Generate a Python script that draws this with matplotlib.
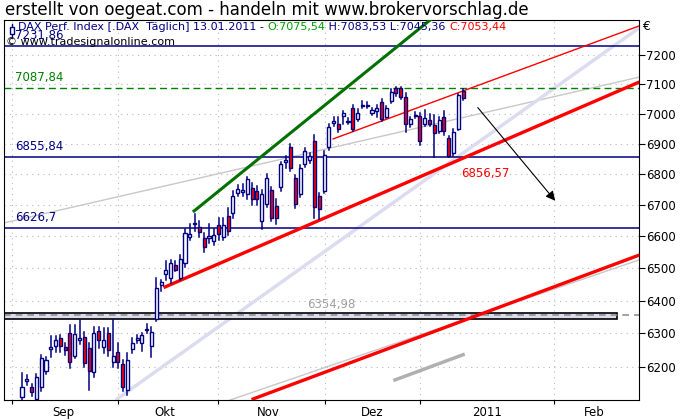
import matplotlib
matplotlib.use("Agg")
import matplotlib.pyplot as plt
from matplotlib.patches import Rectangle
from matplotlib.lines import Line2D
from matplotlib.ticker import FixedLocator, NullLocator
import matplotlib.transforms as mtrans

opens = [6110,6159,6140,6105,6140,6187,6254,6262,6286,6259,
         6302,6232,6281,6290,6256,6184,6308,6259,6302,6214,
         6244,6208,6131,6253,6281,6271,6309,6262,6345,6448,
         6481,6470,6510,6470,6515,6598,6638,6631,6595,6596,
         6586,6637,6598,6665,6675,6738,6741,6735,6754,6745,
         6650,6703,6748,6697,6758,6840,6890,6787,6735,6833,
         6846,6910,6729,6745,6890,6970,6966,6994,6972,7018,
         6984,7026,7026,7001,7008,7039,6990,7042,7087,7087,
         7056,6966,6991,6994,6966,6980,6963,6943,6990,6919,
         6870,6950,7075.54]
highs = [6182,6176,6150,6178,6235,6230,6293,6292,6295,6270,
         6326,6326,6340,6305,6270,6320,6320,6315,6315,6341,
         6270,6220,6240,6285,6295,6300,6330,6320,6470,6462,
         6522,6525,6522,6540,6622,6638,6670,6648,6610,6640,
         6625,6660,6660,6690,6745,6765,6768,6790,6770,6760,
         6750,6800,6758,6720,6840,6860,6900,6798,6830,6885,
         6870,6930,6740,6875,6965,6990,6990,7010,6985,7030,
         7015,7042,7040,7020,7030,7050,7025,7085,7090,7092,
         7070,6990,7005,7003,7012,7000,6995,6990,7010,6925,
         6950,7065,7083.53]
lows = [6095,6146,6115,6095,6128,6178,6229,6245,6245,6235,
        6195,6225,6268,6200,6131,6170,6255,6240,6232,6200,
        6195,6128,6118,6240,6270,6248,6300,6228,6338,6430,
        6465,6455,6490,6465,6505,6588,6618,6598,6550,6580,
        6572,6590,6590,6605,6660,6728,6730,6720,6700,6700,
        6622,6695,6650,6640,6745,6820,6810,6690,6725,6825,
        6835,6660,6655,6738,6880,6960,6940,6965,6965,6942,
        6975,7020,7018,6995,6990,6975,6985,7035,7060,7050,
        6940,6955,6985,6895,6960,6958,6857,6935,6930,6856.57,
        6858,6945,7045.36]
closes = [6140,6163,6125,6170,6226,6220,6258,6280,6262,6250,
          6214,6299,6285,6211,6187,6302,6280,6280,6250,6232,
          6214,6140,6220,6271,6285,6296,6313,6305,6439,6457,
          6495,6517,6495,6529,6610,6607,6642,6613,6568,6600,
          6604,6607,6637,6616,6729,6751,6750,6784,6719,6719,
          6735,6787,6659,6659,6833,6845,6820,6703,6820,6877,
          6860,6693,6687,6864,6956,6977,6950,7001,6976,6950,
          7004,7030,7030,7014,7021,6981,7018,7073,7070,7056,
          6966,6984,6997,6910,6987,6966,6936,6980,6943,6860,
          6940,7062,7053.44]

h_levels = [7231.86, 6855.84, 6626.7]
h_labels = ["7231,86", "6855,84", "6626,7"]
green_level = 7087.84
box_level = 6354.98
box_range = (6343, 6363)

green_line = ([35.89, 85.12], [6681, 7322])
red_thin = ([64.89, 128.7], [6916, 7301])
red_thick = ([29.84, 128.7], [6442, 7107])
red_bottom = ([48.2, 128.7], [6105, 6541])
lavender = ([19.82, 128.7], [6105, 7294])
grey_upper = ([-3.76, 128.7], [6643, 7124])
grey_lower = ([43.4, 128.7], [6102, 6526])
grey_ma = ([77.8, 92.0], [6161, 6236])
arrow = ([94.7, 111.6], [7028, 6707])

month_ticks = [-2.09, 20.03, 40.89, 63.22, 83.04, 111.0]
month_label_pos = [8.55, 29.84, 51.33, 73.02, 97.02, 119.34]
month_labels = ["Sep", "Okt", "Nov", "Dez", "2011", "Feb"]
yticks = [6200, 6300, 6400, 6500, 6600, 6700, 6800, 6900, 7000, 7100, 7200]

navy = "#000080"
fig = plt.figure(figsize=(6.8, 4.2), dpi=100)
ax = fig.add_axes([4/680, 1-400/420, 635/680, 380/420])
ax.set_yscale("log")
ax.set_xlim(-3.76, 128.7)
ax.set_ylim(6102, 7322)

for y in yticks:
    ax.axhline(y, color="#b8b8b8", lw=0.8, ls=(0, (1, 4)), zorder=0)
for x in month_ticks:
    ax.axvline(x, color="#b8b8b8", lw=0.8, ls=(0, (1, 4)), zorder=0)

ax.plot(*grey_upper, color="#c8c8c8", lw=1, zorder=1)
ax.plot(*grey_lower, color="#c8c8c8", lw=1, zorder=1)
ax.plot(*grey_ma, color="#b0b0b0", lw=2.5, zorder=1)
ax.plot(*lavender, color="#dcdcf0", lw=2.5, zorder=1)

ax.add_patch(Rectangle((-3.76, box_range[0]), 124.1+3.76, box_range[1]-box_range[0],
                       facecolor="#dcdcf0", edgecolor="black", lw=1.2, zorder=2))
ax.plot([-3.76, 128.7], [box_level, box_level], color="#909090", lw=1.2, ls=(0, (4, 3)), zorder=2)
ax.text(69.5, box_level*1.002, "6354,98", color="#a0a0a0", fontsize=8.5, ha="right", va="bottom")

for lv in h_levels:
    ax.axhline(lv, color=navy, lw=1.1, zorder=2)
ax.axhline(green_level, color="#008000", lw=1, ls=(0, (5, 3)), zorder=2)
tr = mtrans.blended_transform_factory(ax.transAxes, ax.transData)
ax.text(0.017, green_level*1.002, "7087,84", color="#008000", fontsize=8.5, transform=tr, va="bottom")
for lv, lab in zip(h_levels, h_labels):
    ax.text(0.017, lv*1.002, lab, color=navy, fontsize=8.5, transform=tr, va="bottom")

ax.plot(*green_line, color="#007000", lw=2.2, zorder=3)
ax.plot(*red_thin, color="#ff0000", lw=1, zorder=3)
ax.plot(*red_thick, color="#ff0000", lw=2.4, zorder=3)
ax.plot(*red_bottom, color="#ff0000", lw=2.4, zorder=3)
ax.annotate("", xy=(arrow[0][1], arrow[1][1]), xytext=(arrow[0][0], arrow[1][0]),
            arrowprops=dict(arrowstyle="-|>", color="black", lw=0.8, mutation_scale=14), zorder=3)

for i, (o, h, l, c) in enumerate(zip(opens, highs, lows, closes)):
    ax.plot([i, i], [l, h], color=navy, lw=1.1, zorder=4)
    lo, hi = min(o, c), max(o, c)
    face = "white" if c >= o else "#ff0000"
    ax.add_patch(Rectangle((i-0.32, lo), 0.64, max(hi-lo, 0.8), facecolor=face,
                           edgecolor=navy, lw=1, zorder=5))

ax.text(91.6, 6856.57*0.995, "6856,57", color="#ff0000", fontsize=8.5, va="top", zorder=6)

ax.text(0.003, 0.955, "© www.tradesignalonline.com", transform=ax.transAxes,
        fontsize=8, color="black", va="top", zorder=6)
# small candle icon in header
ax.add_line(Line2D([0.0125, 0.0125], [0.955, 0.99], transform=ax.transAxes, color=navy, lw=1, zorder=6))
ax.add_patch(Rectangle((0.009, 0.962), 0.007, 0.02, transform=ax.transAxes,
                       facecolor="white", edgecolor=navy, lw=1, zorder=7))
parts = [("DAX Perf. Index [.DAX  Täglich] 13.01.2011 - ", navy),
         ("O:7075,54", "#00a000"), (" H:7083,53 L:7045,36 ", navy), ("C:7053,44", "#ff0000")]
t = None
for s, col in parts:
    if t is None:
        t = ax.text(0.022, 0.995, s, transform=ax.transAxes, fontsize=8, color=col, va="top", zorder=6)
    else:
        t = ax.annotate(s, xycoords=t, xy=(1, 0), va="bottom", fontsize=8, color=col, zorder=6)

ax.yaxis.tick_right()
ax.yaxis.set_major_locator(FixedLocator(yticks))
ax.yaxis.set_minor_locator(NullLocator())
ax.set_yticklabels([str(y) for y in yticks])
ax.tick_params(axis="y", labelsize=8.5, length=4, pad=1)
ax.xaxis.set_major_locator(FixedLocator(month_ticks))
ax.set_xticklabels([])
ax.tick_params(axis="x", length=3, direction="out")
for p, lab in zip(month_label_pos, month_labels):
    ax.text(p, -0.015, lab, transform=mtrans.blended_transform_factory(ax.transData, ax.transAxes),
            ha="center", va="top", fontsize=8.5)
fig.text(1-38/680, 1-27/420, "€", fontsize=9, va="center")
fig.text(5/680, 1-10/420, "erstellt von oegeat.com - handeln mit www.brokervorschlag.de",
         fontsize=12, va="center")

fig.savefig("out.png", dpi=100)
